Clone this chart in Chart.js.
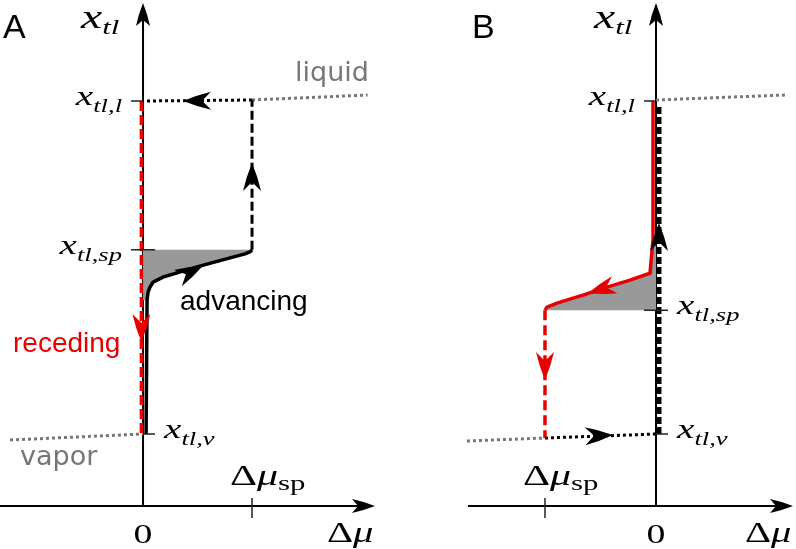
<!DOCTYPE html>
<html>
<head>
<meta charset="utf-8">
<script src="https://cdn.jsdelivr.net/npm/chart.js@4"></script>
<style>
  body { margin: 0; background: #fff; }
  .panel { position: absolute; top: 0; width: 398px; height: 549px; }
</style>
</head>
<body>
<div class="panel" style="left:0"><canvas id="chartA" width="398" height="549"></canvas></div>
<div class="panel" style="left:398px"><canvas id="chartB" width="398" height="549"></canvas></div>
<script>
// Δμ in units of |Δμ_sp|, x_tl scaled so that x_tl,v = 0 and x_tl,l = 1
const spA = 0.553;
const spB = 0.372;

// panel A : advancing / receding
const vaporA = [[-1.22, -0.018], [0, 0]];
const liquidA = [[1, 1.003], [2.06, 1.018]];
const topA = [[1, 1.003], [0, 1.0]];
const jumpA = [[1, spA], [1, 1.003]];
const advancingA = [[0.028, 0], [0.037, 0.402], [0.046, 0.426], [0.064, 0.441], [0.092, 0.456],
  [0.183, 0.471], [0.495, 0.502], [0.798, 0.529], [0.936, 0.541], [0.982, 0.547], [1, spA]];
const recedingA = [[-0.015, 1], [-0.015, 0]];
const shadeA = [[0, spA], ...advancingA.slice(1).reverse(), [0, 0.402]];
const arrowTipsA = [[0.367, 1.0], [1, 0.814], [0.55, 0.505], [-0.015, 0.276]];
const arrowTailsA = [[0.6, 1.001], [1, 0.6], [0.45, 0.489], [-0.015, 0.5]];

// panel B
const vaporB = [[-1.703, -0.021], [-1, -0.012]];
const liquidB = [[0, 1.003], [1.162, 1.018]];
const bottomB = [[-1, -0.012], [0, 0]];
const jumpB = [[-1, spB], [-1, -0.012]];
const advancingB = [[0.027, 0], [0.027, 0.99]];
const recedingB = [[-0.027, 1.0], [-0.027, 0.583], [-0.054, 0.483], [-0.234, 0.462], [-0.441, 0.441],
  [-0.658, 0.417], [-0.892, 0.393], [-0.982, 0.381], [-1, spB]];
const shadeB = [[0, spB], ...recedingB.slice(1).reverse(), [0, 0.583]];
const arrowTipsB = [[-0.387, -0.003], [0.027, 0.634], [-0.613, 0.423], [-1, 0.162]];
const arrowTailsB = [[-1, -0.012], [0.027, 0.3], [-0.441, 0.441], [-1, 0.3]];

// tick values and labels
const yTicksA = [0, spA, 1];
const yTicksB = [0, spB, 1];
const yTickSubs = ['tl,v', 'tl,sp', 'tl,l'];
const xTicksA = [0, 1];
const xTicksB = [0, -1];

const RED = '#e60000';
const GRAY = '#777777';
const SERIF = '"Liberation Serif", "Times New Roman", serif';
const STRETCH = 1.4;

const xy = pts => pts.map(p => ({ x: p[0], y: p[1] }));

function mathText(ctx, parts, x, y, align) {
  let widths = parts.map(p => {
    ctx.font = (p[2] ? 'italic ' : '') + p[1] + 'px ' + SERIF;
    return ctx.measureText(p[0]).width * STRETCH;
  });
  const total = widths.reduce((a, b) => a + b, 0);
  let cx = align === 'right' ? x - total : align === 'center' ? x - total / 2 : x;
  ctx.textAlign = 'left';
  ctx.textBaseline = 'alphabetic';
  parts.forEach((p, i) => {
    ctx.font = (p[2] ? 'italic ' : '') + p[1] + 'px ' + SERIF;
    ctx.save();
    ctx.translate(cx, y + p[3]);
    ctx.scale(STRETCH, 1);
    ctx.fillText(p[0], 0, 0);
    ctx.restore();
    cx += widths[i];
  });
}

function arrowHead(ctx, x, y, angle, len, half, notch) {
  ctx.save();
  ctx.translate(x, y);
  ctx.rotate(angle);
  ctx.beginPath();
  ctx.moveTo(0, 0);
  ctx.quadraticCurveTo(-len * 0.5, -half * 0.65, -len, -half);
  ctx.lineTo(-len + notch, 0);
  ctx.lineTo(-len, half);
  ctx.quadraticCurveTo(-len * 0.5, half * 0.65, 0, 0);
  ctx.closePath();
  ctx.fill();
  ctx.restore();
}

const diagramPlugin = {
  id: 'diagram',
  beforeDatasetsDraw(chart, args, o) {
    const ctx = chart.ctx;
    const X = v => chart.scales.x.getPixelForValue(v);
    const Y = v => chart.scales.y.getPixelForValue(v);
    ctx.save();
    ctx.strokeStyle = '#000';
    ctx.lineWidth = 2;
    ctx.beginPath();
    ctx.moveTo(X(o.xAxis[0]), Y(o.axisY));
    ctx.lineTo(X(o.xAxis[1]) - 10, Y(o.axisY));
    ctx.moveTo(X(0), Y(o.axisY));
    ctx.lineTo(X(0), Y(o.yTop) + 10);
    ctx.stroke();
    ctx.restore();
  },
  afterDatasetsDraw(chart, args, o) {
    const ctx = chart.ctx;
    const X = v => chart.scales.x.getPixelForValue(v);
    const Y = v => chart.scales.y.getPixelForValue(v);
    const ax = X(0), ay = Y(o.axisY);
    ctx.save();
    ctx.fillStyle = '#000';
    // axis arrowheads
    arrowHead(ctx, X(o.xAxis[1]), ay, 0, 23, 7, 6);
    arrowHead(ctx, ax, Y(o.yTop), -Math.PI / 2, 23, 7, 6);
    // path arrowheads
    o.tips.forEach((t, i) => {
      const tl = o.tails[i];
      const px = X(t[0]), py = Y(t[1]);
      const ang = Math.atan2(py - Y(tl[1]), px - X(tl[0]));
      ctx.fillStyle = o.arrowColors[i];
      arrowHead(ctx, px, py, ang, 28, 9, 9);
    });
    // ticks
    ctx.strokeStyle = '#222';
    ctx.lineWidth = 1.5;
    ctx.beginPath();
    o.yTicks.forEach((v, i) => {
      const s = o.yTickSides[i];
      ctx.moveTo(ax + (s === 'right' ? 0 : -12), Y(v));
      ctx.lineTo(ax + (s === 'left' ? 0 : 12), Y(v));
    });
    ctx.moveTo(X(o.xTicks[1]), ay - 8);
    ctx.lineTo(X(o.xTicks[1]), ay + 12);
    ctx.stroke();
    // tick labels
    ctx.fillStyle = '#000';
    o.yTicks.forEach((v, i) => {
      const left = o.yLabelSides[i] === 'left';
      mathText(ctx, [['x', 28, true, 0], [yTickSubs[i], 19, true, 7]],
        left ? ax - 21 : ax + 21, Y(v) + 4, left ? 'right' : 'left');
    });
    mathText(ctx, [['0', 27, false, 0]], X(o.xTicks[0]), ay + 37, 'center');
    mathText(ctx, [['Δ', 30, false, 0], ['μ', 30, true, 0], ['sp', 22, false, 5]],
      X(o.xTicks[1]) - 22, ay - 21, 'left');
    // axis titles
    mathText(ctx, [['Δ', 29, false, 0], ['μ', 29, true, 0]], X(o.xAxis[1]) - 48, ay + 36, 'left');
    mathText(ctx, [['x', 34, true, 0], ['tl', 22, true, 6]], ax - 62, 28, 'left');
    // panel letter and text notes
    ctx.textAlign = 'left';
    ctx.textBaseline = 'alphabetic';
    ctx.font = '34px "Liberation Sans", Arial, sans-serif';
    ctx.fillText(o.letter[0], o.letter[1], o.letter[2]);
    o.notes.forEach(n => {
      ctx.fillStyle = n[4];
      ctx.font = n[3];
      ctx.fillText(n[0], n[1], n[2]);
    });
    ctx.restore();
  }
};

function makePanel(id, datasets, xRange, diagram) {
  new Chart(document.getElementById(id), {
    type: 'line',
    data: { datasets: datasets },
    options: {
      responsive: false,
      animation: false,
      events: [],
      layout: { padding: 0 },
      elements: { point: { radius: 0 }, line: { tension: 0, borderCapStyle: 'butt' } },
      scales: {
        x: { type: 'linear', min: xRange[0], max: xRange[1], display: false },
        y: { type: 'linear', min: -0.3453, max: 1.3033, display: false }
      },
      plugins: { legend: { display: false }, tooltip: { enabled: false }, diagram: diagram }
    },
    plugins: [diagramPlugin]
  });
}

const sansNote = '28px "Liberation Sans", Arial, sans-serif';
const grayNote = '27px "DejaVu Sans", sans-serif';

makePanel('chartA', [
  { data: xy(recedingA), borderColor: RED, borderWidth: 3.5, borderDash: [10, 4] },
  { data: xy(advancingA), borderColor: '#000', borderWidth: 3.5 },
  { data: xy(jumpA), borderColor: '#000', borderWidth: 3, borderDash: [9, 4] },
  { data: xy(topA), borderColor: '#000', borderWidth: 3, borderDash: [3, 3] },
  { data: xy(liquidA), borderColor: GRAY, borderWidth: 3, borderDash: [3, 3] },
  { data: xy(vaporA), borderColor: GRAY, borderWidth: 3, borderDash: [3, 3] },
  { data: xy(shadeA), borderColor: 'rgba(0,0,0,0)', borderWidth: 1, backgroundColor: '#999999', fill: 'shape' }
], [-1.312, 2.339], {
  xAxis: [-1.312, 2.128], axisY: -0.216, yTop: 1.294,
  yTicks: yTicksA, yTickSides: ['right', 'both', 'left'], yLabelSides: ['right', 'left', 'left'],
  xTicks: xTicksA,
  tips: arrowTipsA, tails: arrowTailsA, arrowColors: ['#000', '#000', '#000', RED],
  letter: ['A', 3, 38],
  notes: [['liquid', 295, 81, grayNote, GRAY], ['vapor', 20, 465, grayNote, GRAY],
    ['receding', 13, 352, sansNote, RED], ['advancing', 180, 310, sansNote, '#000']]
});

makePanel('chartB', [
  { data: xy(recedingB), borderColor: RED, borderWidth: 3.5 },
  { data: xy(jumpB), borderColor: RED, borderWidth: 3.5, borderDash: [10, 5] },
  { data: xy(advancingB), borderColor: '#000', borderWidth: 5, borderDash: [7, 3] },
  { data: xy(bottomB), borderColor: '#000', borderWidth: 3, borderDash: [3, 3] },
  { data: xy(liquidB), borderColor: GRAY, borderWidth: 3, borderDash: [3, 3] },
  { data: xy(vaporB), borderColor: GRAY, borderWidth: 3, borderDash: [3, 3] },
  { data: xy(shadeB), borderColor: 'rgba(0,0,0,0)', borderWidth: 1, backgroundColor: '#999999', fill: 'shape' }
], [-2.324, 1.261], {
  xAxis: [-1.694, 1.234], axisY: -0.216, yTop: 1.294,
  yTicks: yTicksB, yTickSides: ['right', 'both', 'left'], yLabelSides: ['right', 'right', 'left'],
  xTicks: xTicksB,
  tips: arrowTipsB, tails: arrowTailsB, arrowColors: ['#000', '#000', RED, RED],
  letter: ['B', 74, 38],
  notes: []
});
</script>
</body>
</html>
